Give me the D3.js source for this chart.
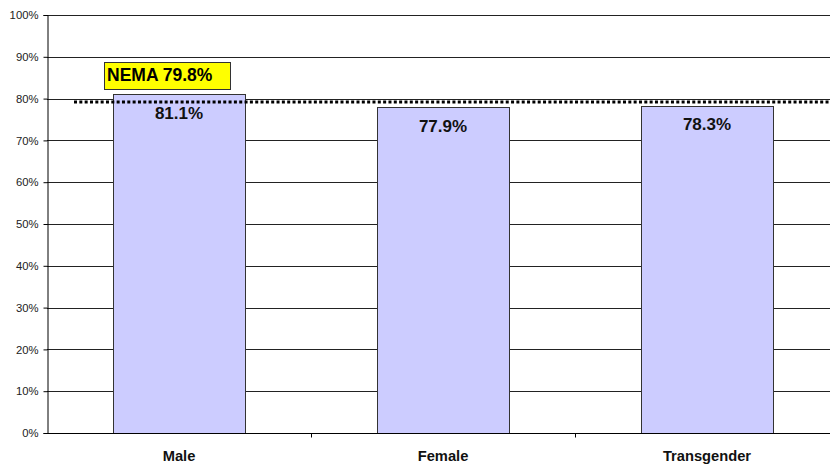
<!DOCTYPE html>
<html>
<head>
<meta charset="utf-8">
<script src="https://cdn.jsdelivr.net/npm/d3@7"></script>
<style>
  html, body { margin: 0; padding: 0; background: #fff; }
  svg { display: block; font-family: "Liberation Sans", Arial, sans-serif; }
</style>
</head>
<body>
<svg id="chart" width="830" height="465"></svg>
<script>
// Share of respondents by gender, against the NEMA benchmark
const categories = ["Male", "Female", "Transgender"];
const values = [81.1, 77.9, 78.3];
const benchmarkLabel = "NEMA";
const benchmarkValue = 79.8;
const yTicks = [0, 10, 20, 30, 40, 50, 60, 70, 80, 90, 100];

const svg = d3.select("#chart");
const plotLeft = 47, plotRight = 839, plotTop = 15, plotBottom = 433;

const x = d3.scaleBand()
  .domain(categories)
  .range([plotLeft, plotRight])
  .paddingInner(0.5)
  .paddingOuter(0.25);

const y = d3.scaleLinear().domain([0, 100]).range([plotBottom, plotTop]);

// horizontal gridlines
svg.append("g")
  .selectAll("line")
  .data(yTicks.filter(t => t > 0))
  .join("line")
  .attr("x1", plotLeft).attr("x2", plotRight)
  .attr("y1", d => Math.round(y(d)) + 0.5).attr("y2", d => Math.round(y(d)) + 0.5)
  .attr("stroke", "#222").attr("stroke-width", 1);

// bars
svg.append("g")
  .selectAll("rect")
  .data(values)
  .join("rect")
  .attr("x", (d, i) => Math.round(x(categories[i])) + 0.5)
  .attr("y", d => Math.round(y(d)) + 0.5)
  .attr("width", x.bandwidth())
  .attr("height", d => plotBottom - Math.round(y(d)))
  .attr("fill", "#ccccff")
  .attr("stroke", "#333")
  .attr("stroke-width", 1);

// value labels at the top of each bar
svg.append("g")
  .selectAll("text")
  .data(values)
  .join("text")
  .attr("x", (d, i) => x(categories[i]) + x.bandwidth() / 2)
  .attr("y", d => y(d) + 24.5)
  .attr("text-anchor", "middle")
  .attr("font-weight", "bold")
  .attr("font-size", "17px")
  .attr("fill", "#111")
  .text(d => d.toFixed(1) + "%");

// benchmark line
svg.append("line")
  .attr("x1", 74).attr("x2", plotRight)
  .attr("y1", y(benchmarkValue) + 2.5).attr("y2", y(benchmarkValue) + 2.5)
  .attr("stroke", "#000")
  .attr("stroke-width", 3)
  .attr("stroke-dasharray", "3,2.33");

// benchmark label box
const lbl = svg.append("g");
lbl.append("rect")
  .attr("x", 104.5).attr("y", 62.5)
  .attr("width", 126).attr("height", 27)
  .attr("fill", "#ffff00")
  .attr("stroke", "#333");
lbl.append("text")
  .attr("x", 107).attr("y", 81)
  .attr("font-weight", "bold")
  .attr("font-size", "17.5px")
  .attr("fill", "#000")
  .text(benchmarkLabel + " " + benchmarkValue.toFixed(1) + "%");

// y axis
const yAxis = d3.axisLeft(y)
  .tickValues(yTicks)
  .tickSize(4)
  .tickFormat(d => d + "%");
const gy = svg.append("g")
  .attr("transform", `translate(${plotLeft + 0.5},0)`)
  .call(yAxis);
gy.select(".domain").attr("stroke", "#000");
gy.selectAll(".tick line").attr("stroke", "#000");
gy.selectAll(".tick text")
  .attr("font-family", "Liberation Sans, Arial, sans-serif")
  .attr("font-size", "11.3px")
  .attr("fill", "#222")
  .attr("x", -9);

// x axis
const gx = svg.append("g")
  .attr("transform", `translate(0,${plotBottom + 0.5})`);
gx.append("line")
  .attr("x1", plotLeft).attr("x2", plotRight)
  .attr("stroke", "#000");
const sepX = d => Math.round(x(d) - (x.step() - x.bandwidth()) / 2) + 0.5;
gx.selectAll("line.sep")
  .data(categories.slice(1))
  .join("line")
  .attr("class", "sep")
  .attr("x1", sepX).attr("x2", sepX)
  .attr("y1", 0).attr("y2", 4)
  .attr("stroke", "#000");
gx.selectAll("text")
  .data(categories)
  .join("text")
  .attr("x", d => x(d) + x.bandwidth() / 2)
  .attr("y", 27.5)
  .attr("text-anchor", "middle")
  .attr("font-weight", "bold")
  .attr("font-size", "14.7px")
  .attr("fill", "#111")
  .text(d => d);
</script>
</body>
</html>
